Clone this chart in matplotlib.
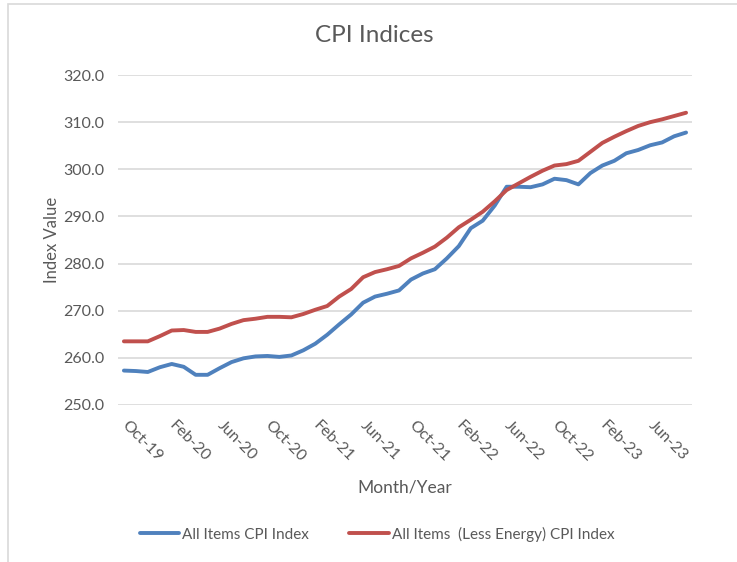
import numpy as np
import matplotlib.pyplot as plt
from matplotlib.patches import Rectangle

# Monthly data, Oct-19 .. Sep-23
months = ['Oct-19', 'Nov-19', 'Dec-19', 'Jan-20', 'Feb-20', 'Mar-20', 'Apr-20', 'May-20',
          'Jun-20', 'Jul-20', 'Aug-20', 'Sep-20', 'Oct-20', 'Nov-20', 'Dec-20', 'Jan-21',
          'Feb-21', 'Mar-21', 'Apr-21', 'May-21', 'Jun-21', 'Jul-21', 'Aug-21', 'Sep-21',
          'Oct-21', 'Nov-21', 'Dec-21', 'Jan-22', 'Feb-22', 'Mar-22', 'Apr-22', 'May-22',
          'Jun-22', 'Jul-22', 'Aug-22', 'Sep-22', 'Oct-22', 'Nov-22', 'Dec-22', 'Jan-23',
          'Feb-23', 'Mar-23', 'Apr-23', 'May-23', 'Jun-23', 'Jul-23', 'Aug-23', 'Sep-23']

cpi_all = [257.3, 257.2, 257.0, 258.0, 258.7, 258.1, 256.4, 256.4,
           257.8, 259.1, 259.9, 260.3, 260.4, 260.2, 260.5, 261.6,
           263.0, 264.9, 267.1, 269.2, 271.7, 273.0, 273.6, 274.3,
           276.6, 277.9, 278.8, 281.1, 283.7, 287.5, 289.1, 292.3,
           296.3, 296.3, 296.2, 296.8, 298.0, 297.7, 296.8, 299.2,
           300.8, 301.8, 303.4, 304.1, 305.1, 305.7, 307.0, 307.8]

cpi_less_energy = [263.5, 263.5, 263.5, 264.6, 265.8, 265.9, 265.5, 265.5,
                   266.2, 267.2, 268.0, 268.3, 268.7, 268.7, 268.6, 269.3,
                   270.2, 271.0, 273.0, 274.6, 277.1, 278.2, 278.8, 279.5,
                   281.1, 282.3, 283.6, 285.5, 287.7, 289.3, 291.0, 293.2,
                   295.6, 297.0, 298.4, 299.7, 300.8, 301.1, 301.8, 303.7,
                   305.6, 306.9, 308.1, 309.2, 310.0, 310.6, 311.3, 312.0]

plt.rcParams['font.family'] = ['Lato', 'DejaVu Sans']
text_col = '#595959'
grid_col = '#D9D9D9'

fig = plt.figure(figsize=(7.37, 5.62), dpi=100)
ax = fig.add_axes([0.160, 0.2794, 0.779, 0.5871])

# рамка диаграммы (как в Excel)
fig.patches.append(Rectangle((8 / 737, -0.1), 1.0, 1 - 4 / 562 + 0.1,
                             transform=fig.transFigure, fill=False,
                             edgecolor=grid_col, linewidth=1.2))

x = np.arange(len(months))
ax.plot(x, cpi_all, color='#4F81BD', linewidth=2.8, label='All Items CPI Index',
        solid_capstyle='round')
ax.plot(x, cpi_less_energy, color='#C0504D', linewidth=2.8,
        label='All Items  (Less Energy) CPI Index', solid_capstyle='round')

ax.set_xlim(-0.5, len(months) - 0.5)
ax.set_ylim(250, 320)
ax.set_yticks(np.arange(250, 321, 10))
ax.set_yticklabels([f'{v:.1f}' for v in np.arange(250, 321, 10)])
ax.set_xticks(x[::4])
ax.set_xticklabels(months[::4], rotation=-45, ha='left', va='center',
                   rotation_mode='anchor')

ax.grid(axis='y', color=grid_col, linewidth=1.2)
ax.set_axisbelow(True)
for s in ax.spines.values():
    s.set_visible(False)
ax.tick_params(axis='both', length=0, colors=text_col, labelsize=11.5)
ax.tick_params(axis='y', pad=10)
ax.tick_params(axis='x', pad=13)

# заголовок по центру всей диаграммы
fig.text(374 / 737, 1 - 35 / 562, 'CPI Indices', fontsize=17.5, color=text_col,
         ha='center', va='center')
ax.set_ylabel('Index Value', fontsize=12, color=text_col, labelpad=2)
ax.set_xlabel('Month/Year', fontsize=12.5, color=text_col, labelpad=11)

fig.legend(*ax.get_legend_handles_labels(), loc='center',
           bbox_to_anchor=(377 / 737, 1 - 534 / 562), ncol=2, frameon=False,
           fontsize=11, labelcolor=text_col, handlelength=2.6, handletextpad=0.2,
           columnspacing=2.6)

plt.savefig('out.png', dpi=100)
